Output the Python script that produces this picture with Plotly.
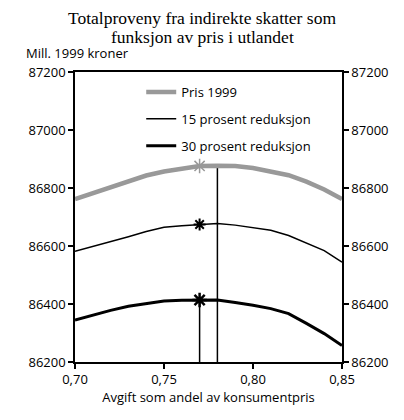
import plotly.graph_objects as go

x_vals = [0.70, 0.71, 0.72, 0.73, 0.74, 0.75, 0.76, 0.77, 0.78, 0.79, 0.80, 0.81, 0.82, 0.83, 0.84, 0.85]
pris_1999 = [86762, 86783, 86805, 86826, 86843, 86857, 86868, 86876, 86877, 86876, 86869, 86858, 86844, 86822, 86795, 86762]
red_15 = [86582, 86598, 86614, 86632, 86650, 86665, 86670, 86674, 86678, 86672, 86664, 86654, 86636, 86610, 86584, 86544]
red_30 = [86345, 86362, 86378, 86392, 86402, 86410, 86413, 86414, 86414, 86405, 86396, 86384, 86367, 86333, 86298, 86257]

names = ["Pris 1999", "15 prosent reduksjon", "30 prosent reduksjon"]
marker_x = 0.77
vline_x = [0.78, 0.77]
y_range = [86200, 87200]
y_ticks = [86200, 86400, 86600, 86800, 87000, 87200]
y_ticklabels = ["86200", "86400", "86600", "86800", "87000", "87200"]
x_ticks = [0.70, 0.75, 0.80, 0.85]
x_ticklabels = ["0,70", "0,75", "0,80", "0,85"]
title_lines = ["Totalproveny fra indirekte skatter som", "funksjon av pris i utlandet"]

FONT = "Open Sans"
fig = go.Figure()

def val_at(series, xv):
    return series[min(range(len(x_vals)), key=lambda i: abs(x_vals[i] - xv))]

# vertical lines (drawn first, beneath curves)
fig.add_trace(go.Scatter(x=[vline_x[0], vline_x[0]], y=[val_at(pris_1999, vline_x[0]), y_range[0]],
                         mode="lines", line=dict(color="black", width=1.5), showlegend=False, hoverinfo="skip"))
fig.add_trace(go.Scatter(x=[vline_x[1], vline_x[1]], y=[val_at(red_30, vline_x[1]), y_range[0]],
                         mode="lines", line=dict(color="black", width=1.5), showlegend=False, hoverinfo="skip"))

styles = [
    dict(color="#999999", width=4.5, msize=12, mwidth=1.5),
    dict(color="black", width=1.5, msize=10, mwidth=2),
    dict(color="black", width=3, msize=12, mwidth=2.5),
]
for i, (nm, s, st) in enumerate(zip(names, [pris_1999, red_15, red_30], styles)):
    fig.add_trace(go.Scatter(x=x_vals, y=s, mode="lines", name=nm,
                             line=dict(color=st["color"], width=st["width"]),
                             legendgroup=f"g{i}"))
    fig.add_trace(go.Scatter(x=[marker_x], y=[val_at(s, marker_x)], mode="markers",
                             marker=dict(symbol="asterisk-open", size=st["msize"], color=st["color"],
                                         line=dict(color=st["color"], width=st["mwidth"])),
                             showlegend=False, hoverinfo="skip"))

# invisible trace for right axis
fig.add_trace(go.Scatter(x=[x_vals[0]], y=[pris_1999[0]], yaxis="y2", mode="markers",
                         marker=dict(opacity=0), showlegend=False, hoverinfo="skip"))

axis_font = dict(family=FONT, size=13, color="black")
yax = dict(range=y_range, tickvals=y_ticks, ticktext=y_ticklabels, showgrid=False, zeroline=False,
           showline=True, linecolor="black", linewidth=1.5,
           ticks="outside", ticklen=5, tickcolor="black", tickwidth=1.5, tickfont=axis_font)
title_font = dict(family="Liberation Serif", size=17.5, color="black")
# page has an 8px body margin: figure is drawn 8px right/down
fig.update_layout(
    width=396, height=412,
    margin=dict(l=67, r=62, t=64, b=58),
    paper_bgcolor="white", plot_bgcolor="white",
    xaxis=dict(range=[0.70, 0.85], tickvals=x_ticks, ticktext=x_ticklabels,
               showgrid=False, zeroline=False, showline=True, linecolor="black", linewidth=1.5,
               mirror=True, ticks="outside", ticklen=5, tickcolor="black", tickwidth=1.5,
               tickfont=axis_font,
               title=dict(text="Avgift som andel av konsumentpris", font=axis_font, standoff=6)),
    yaxis=yax,
    yaxis2=dict(yax, overlaying="y", side="right"),
    legend=dict(x=0.248, y=0.983, xanchor="left", yanchor="top", bgcolor="rgba(0,0,0,0)",
                font=dict(family=FONT, size=13, color="black"),
                traceorder="grouped", tracegroupgap=7),
    annotations=[
        dict(text=title_lines[0], xref="paper", yref="paper", x=0.476, y=(362 - 18) / 290,
             xanchor="center", yanchor="middle", showarrow=False, font=title_font),
        dict(text=title_lines[1], xref="paper", yref="paper", x=0.476, y=(362 - 37) / 290,
             xanchor="center", yanchor="middle", showarrow=False, font=title_font),
        dict(text="Mill. 1999 kroner", xref="paper", yref="paper", x=-0.19, y=(362 - 53) / 290,
             xanchor="left", yanchor="middle", showarrow=False,
             font=dict(family=FONT, size=13, color="black")),
    ],
)

fig.write_html("out.html")
